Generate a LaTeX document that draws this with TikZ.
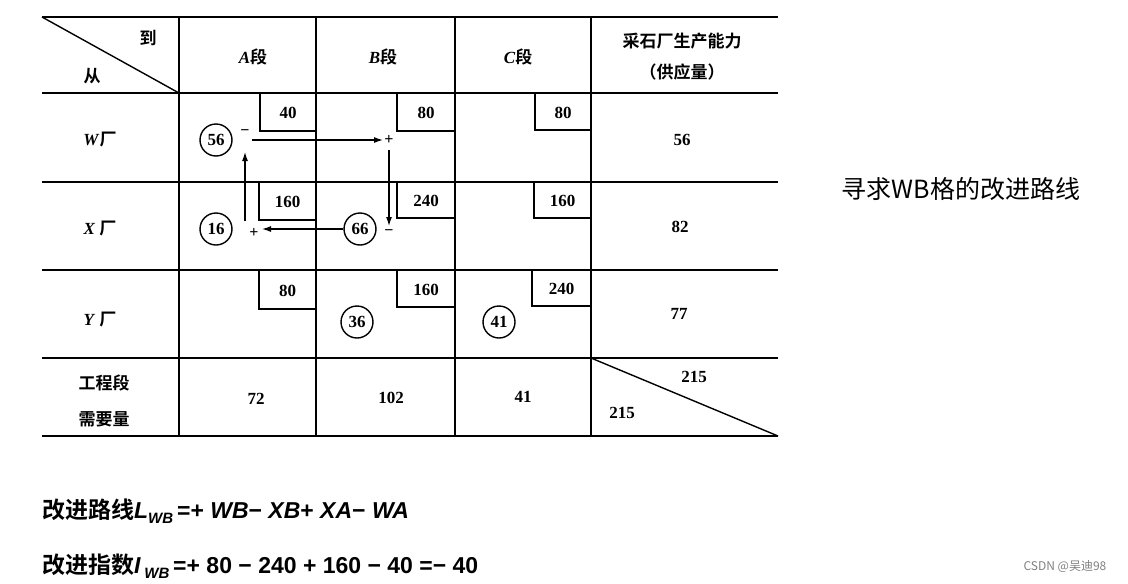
\documentclass[tikz,border=0pt]{standalone}
\usetikzlibrary{arrows.meta}
\usepackage{fontspec}
\setmainfont{Liberation Serif}
\newfontfamily\cjk{Noto Sans CJK SC}[BoldFont={Noto Sans CJK SC Bold}]
\newfontfamily\lsans{Liberation Sans}
\begin{document}
\begin{tikzpicture}[x=1pt,y=-1pt,
  grid/.style={line width=1.8pt},
  thin/.style={line width=1.4pt},
  txt/.style={font=\fontsize{17}{20}\selectfont\bfseries},
  ct/.style={font=\cjk\bfseries\fontsize{17}{20}\selectfont},
  circ/.style={circle,draw,line width=1.4pt,minimum size=32pt,inner sep=0pt,font=\fontsize{17}{20}\selectfont\bfseries},
  arr/.style={-{Latex[length=9pt,width=6pt]},line width=1.2pt},
  sg/.style={font=\fontsize{16}{16}\selectfont\bfseries,inner sep=0pt}]
\useasboundingbox (0,0) rectangle (1128,584);
% grid
\foreach \y in {17,93,182,270,358,436} \draw[grid] (42,\y) -- (778,\y);
\foreach \x in {179,316,455,591} \draw[grid] (\x,17) -- (\x,436);
\draw[thin] (42,17) -- (179,93);
\draw[thin] (591,358) -- (778,436);
% headers
\node[ct] (h1) at (148,38) {到};
\node[ct] (h2) at (92,76) {从};
\node[ct] (ha) at (253,57) {\textit{\rmfamily A}段};
\node[ct] (hb) at (383,57) {\textit{\rmfamily B}段};
\node[ct] (hc) at (518,57) {\textit{\rmfamily C}段};
\node[ct] (hs1) at (682,41) {采石厂生产能力};
\node[ct] (hs2) at (682,72) {（供应量）};
\node[ct] (rw) at (100,140) {\textit{\rmfamily W}厂};
\node[ct] (rx) at (100,229) {\textit{\rmfamily X} 厂};
\node[ct] (ry) at (100,320) {\textit{\rmfamily Y} 厂};
\node[ct] (r41) at (104,383) {工程段};
\node[ct] (r42) at (104,419) {需要量};
% cost boxes
\foreach \l/\b/\v [count=\i] in {260/131/40,397/131/80,535/130/80,259/220/160,397/218/240,534/218/160,259/309/80,397/307/160,532/306/240}{
  \pgfmathsetmacro\r{\l<300?316:(\l<440?455:591)}
  \pgfmathsetmacro\t{\b<150?93:(\b<250?182:270)}
  \draw[thin] (\l,\t) -- (\l,\b) -- (\r,\b);
  \node[txt] (c\i) at ({(\l+\r)/2},{(\t+\b)/2+1}) {\v};
}
% supplies / demands
\node[txt] (s1) at (682,140) {56};
\node[txt] (s2) at (680,227) {82};
\node[txt] (s3) at (679,314) {77};
\node[txt] (d1) at (256,399) {72};
\node[txt] (d2) at (391,398) {102};
\node[txt] (d3) at (523,397) {41};
\node[txt] (t1) at (694,377) {215};
\node[txt] (t2) at (622,413) {215};
% circles
\node[circ] (w56) at (216,140) {56};
\node[circ] (x16) at (216,229) {16};
\node[circ] (x66) at (360,229) {66};
\node[circ] (y36) at (357,322) {36};
\node[circ] (y41) at (499,322) {41};
% loop
\node[sg] (m1) at (245,133) {−};
\node[sg] (p1) at (389,140) {+};
\node[sg] (m2) at (389,233) {−};
\node[sg] (p2) at (254,233) {+};
\coordinate (a1s) at (252,140);
\coordinate (a1e) at (383,140);
\coordinate (a2s) at (389,150);
\coordinate (a2e) at (389,226);
\coordinate (a3e) at (262,229);
\coordinate (a4s) at (245,221);
\coordinate (a4e) at (245,152);
\draw[arr] (a1s) -- (a1e);
\draw[arr] (a2s) -- (a2e);
\draw[arr] (x66.west) -- (a3e);
\draw[arr] (a4s) -- (a4e);
% right text
\node[font=\cjk\fontsize{25}{28}\selectfont] (note) at (961,189) {寻求WB格的改进路线};
% formulas
\node[anchor=west,inner sep=0pt,font=\cjk\bfseries\fontsize{23}{26}\selectfont] (f1) at (42,511)
 {改进路线{\lsans\bfseries\itshape L\raisebox{-5pt}{\fontsize{15}{15}\selectfont WB}}\,{\lsans\bfseries =+ \textit{WB}− \textit{XB}+ \textit{XA}− \textit{WA}}};
\node[anchor=west,inner sep=0pt,font=\cjk\bfseries\fontsize{23}{26}\selectfont] (f2) at (42,566)
 {改进指数{\lsans\bfseries\itshape I\,\raisebox{-5pt}{\fontsize{15}{15}\selectfont WB}}\,{\lsans\bfseries =+ 80 − 240 + 160 − 40 =− 40}};
\node[font=\cjk\fontsize{12}{14}\selectfont,text=gray] (wm) at (1065,567) {CSDN @吴迪98};
\end{tikzpicture}
\end{document}
